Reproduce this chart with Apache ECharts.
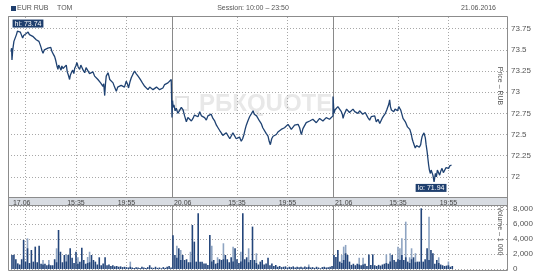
<!DOCTYPE html>
<html><head><meta charset="utf-8">
<script src="https://cdn.jsdelivr.net/npm/echarts@6/dist/echarts.min.js"></script>
<style>html,body{margin:0;padding:0;background:#fff}#c{width:548px;height:275px}</style>
</head><body><div id="c"></div>
<script>
// ---------- data ----------
const instrument = ['EUR RUB', 'TOM'];
const sessionText = 'Session: 10:00 – 23:50';
const dateText = '21.06.2016';
const days = ['17.06', '20.06', '21.06'];
const timeTicks = ['15:35', '19:55'];
const extraGridTimes = [[0, '11:12']];
const priceAxisName = 'Price – RUB';
const volumeAxisName = 'Volume – 1 000';
const watermark = 'РБКQUOTE';

const price1706 = [["10:00",73.48],["10:03",73.52],["10:05",73.38],["10:09",73.50],["10:15",73.60],["10:22",73.58],["10:28",73.68],["10:33",73.72],["10:36",73.74],["10:42",73.70],["10:48",73.71],["10:53",73.68],["11:00",73.64],["11:05",73.67],["11:10",73.66],["11:17",73.69],["11:22",73.67],["11:28",73.71],["11:35",73.68],["11:40",73.70],["11:45",73.69],["11:52",73.66],["12:02",73.67],["12:10",73.62],["12:19",73.64],["12:24",73.60],["12:28",73.58],["12:32",73.55],["12:36",73.52],["12:40",73.49],["12:45",73.46],["12:52",73.50],["13:02",73.48],["13:10",73.52],["13:19",73.50],["13:25",73.53],["13:31",73.48],["13:38",73.45],["13:45",73.42],["13:50",73.38],["13:54",73.34],["13:58",73.30],["14:02",73.27],["14:06",73.32],["14:11",73.30],["14:18",73.26],["14:22",73.31],["14:28",73.28],["14:36",73.30],["14:45",73.32],["14:50",73.24],["14:56",73.20],["15:02",73.15],["15:06",73.20],["15:11",73.23],["15:18",73.26],["15:24",73.22],["15:28",73.28],["15:34",73.31],["15:40",73.35],["15:46",73.30],["15:54",73.27],["16:00",73.32],["16:06",73.30],["16:12",73.26],["16:20",73.23],["16:27",73.29],["16:37",73.27],["16:45",73.22],["16:54",73.21],["17:02",73.24],["17:11",73.19],["17:18",73.21],["17:28",73.15],["17:35",73.17],["17:42",73.11],["17:48",73.13],["17:54",73.07],["17:58",73.10],["18:03",72.96],["18:07",73.10],["18:11",73.19],["18:16",73.17],["18:20",73.23],["18:25",73.19],["18:29",73.15],["18:36",73.16],["18:46",73.11],["18:54",73.06],["19:03",73.01],["19:10",73.06],["19:20",73.05],["19:28",73.08],["19:37",73.09],["19:45",73.06],["19:54",73.13],["20:00",73.10],["20:06",73.05],["20:13",73.12],["20:20",73.17],["20:28",73.21],["20:37",73.25],["20:45",73.22],["20:55",73.19],["21:04",73.16],["21:12",73.13],["21:20",73.10],["21:29",73.07],["21:37",73.05],["21:46",73.03],["21:55",73.06],["22:03",73.05],["22:12",73.03],["22:21",73.02],["22:30",73.06],["22:38",73.05],["22:46",73.03],["22:55",73.02],["23:03",73.05],["23:12",73.09],["23:20",73.08],["23:29",73.11],["23:38",73.12],["23:46",73.15],["23:50",73.13]];

const price2006 = [["10:00",72.70],["10:03",72.90],["10:06",72.82],["10:10",72.85],["10:16",72.78],["10:22",72.81],["10:30",72.75],["10:39",72.77],["10:48",72.82],["10:57",72.79],["11:05",72.72],["11:14",72.65],["11:22",72.70],["11:31",72.71],["11:40",72.66],["11:48",72.69],["11:56",72.73],["12:05",72.75],["12:14",72.71],["12:23",72.77],["12:32",72.72],["12:40",72.73],["12:48",72.70],["12:57",72.67],["13:05",72.72],["13:14",72.71],["13:22",72.74],["13:31",72.69],["13:40",72.66],["13:49",72.61],["13:57",72.58],["14:05",72.55],["14:14",72.52],["14:22",72.49],["14:31",72.48],["14:40",72.52],["14:49",72.50],["14:58",72.45],["15:06",72.46],["15:14",72.52],["15:23",72.50],["15:31",72.45],["15:40",72.44],["15:48",72.47],["15:57",72.42],["16:04",72.45],["16:11",72.50],["16:17",72.56],["16:23",72.61],["16:31",72.66],["16:40",72.71],["16:48",72.74],["16:58",72.78],["17:04",72.74],["17:10",72.75],["17:16",72.72],["17:23",72.71],["17:31",72.66],["17:40",72.63],["17:48",72.58],["17:58",72.56],["18:06",72.51],["18:15",72.48],["18:21",72.42],["18:27",72.38],["18:34",72.45],["18:41",72.48],["18:49",72.46],["18:58",72.50],["19:06",72.53],["19:15",72.52],["19:23",72.56],["19:32",72.54],["19:40",72.58],["19:49",72.58],["19:58",72.62],["20:07",72.59],["20:15",72.56],["20:24",72.58],["20:32",72.61],["20:41",72.59],["20:50",72.62],["20:58",72.58],["21:03",72.53],["21:07",72.50],["21:15",72.57],["21:24",72.59],["21:32",72.64],["21:41",72.63],["21:50",72.66],["21:58",72.65],["22:06",72.68],["22:15",72.67],["22:24",72.64],["22:33",72.66],["22:41",72.69],["22:50",72.69],["22:58",72.66],["23:07",72.67],["23:15",72.70],["23:24",72.69],["23:32",72.68],["23:41",72.69],["23:50",72.72]];

const price2106 = [["10:00",72.95],["10:03",72.84],["10:05",72.75],["10:10",72.79],["10:17",72.81],["10:25",72.83],["10:35",72.85],["10:43",72.77],["10:48",72.74],["10:52",72.69],["10:58",72.74],["11:04",72.77],["11:10",72.80],["11:17",72.79],["11:25",72.76],["11:34",72.78],["11:43",72.80],["11:52",72.77],["12:00",72.79],["12:09",72.75],["12:17",72.78],["12:26",72.77],["12:33",72.74],["12:40",72.73],["12:46",72.76],["12:52",72.74],["13:00",72.70],["13:09",72.67],["13:17",72.71],["13:26",72.69],["13:35",72.72],["13:43",72.65],["13:52",72.68],["14:01",72.63],["14:07",72.66],["14:13",72.69],["14:21",72.72],["14:30",72.75],["14:37",72.79],["14:44",72.81],["14:48",72.86],["14:52",72.91],["14:56",72.83],["15:01",72.79],["15:07",72.81],["15:13",72.77],["15:20",72.80],["15:27",72.81],["15:33",72.78],["15:39",72.83],["15:45",72.81],["15:49",72.79],["15:55",72.74],["16:01",72.69],["16:07",72.70],["16:13",72.65],["16:18",72.63],["16:24",72.59],["16:30",72.60],["16:36",72.56],["16:40",72.54],["16:44",72.50],["16:48",72.45],["16:52",72.42],["16:58",72.38],["17:04",72.34],["17:11",72.37],["17:18",72.36],["17:25",72.35],["17:32",72.38],["17:36",72.44],["17:40",72.48],["17:45",72.50],["17:49",72.52],["17:53",72.50],["17:56",72.46],["18:00",72.38],["18:05",72.30],["18:09",72.22],["18:13",72.14],["18:17",72.08],["18:22",72.04],["18:26",72.08],["18:30",72.10],["18:35",72.02],["18:41",71.94],["18:45",72.00],["18:48",72.04],["18:53",72.00],["18:58",72.08],["19:04",72.05],["19:10",72.02],["19:16",72.07],["19:22",72.10],["19:29",72.05],["19:36",72.06],["19:43",72.11],["19:50",72.12],["19:56",72.10],["20:02",72.13],["20:07",72.12],["20:11",72.14]];

// volume, one value per 10 minutes from 10:00 (dark bars)
const vol1706 = [1870,1900,1300,750,600,1300,3870,1000,2760,800,2530,980,2980,900,3100,700,600,700,500,600,500,500,1300,900,5200,2300,900,1870,1000,1870,2760,1500,800,2300,700,980,2850,1200,700,800,900,1870,1200,980,600,1560,500,750,1560,500,600,400,500,350,400,300,350,250,300,250,200,300,200,150,250,200,150,300,200,150,250,500,200,150,300,150,200,100,250,150,300,400,200];
const vol2006 = [4500,1870,1500,2760,1200,1870,1200,1300,900,900,5870,3650,980,7420,980,980,750,750,530,4540,1000,1200,700,800,1300,1200,1300,1870,1300,900,1560,1000,2760,1300,800,1000,7420,1300,1560,900,1200,5650,1200,800,600,980,1200,600,750,1500,500,750,400,530,300,400,250,300,350,200,300,250,350,200,300,250,300,200,350,250,300,200,250,150,300,200,100,250,300,200,250,300,400];
const vol2106 = [1870,1600,2530,980,800,1200,2100,1870,980,550,700,500,700,600,500,600,700,400,1950,550,1950,500,400,550,450,600,700,800,700,1000,1870,1200,980,1300,1200,1870,1200,1560,980,800,1300,1560,900,980,980,8090,980,1300,2760,1200,2530,2100,700,1200,800,600,500,400,450,500,300,400];
// lighter volume bars
const volLight1706 = [["11:00",1500],["11:20",4090],["12:40",1200],["13:10",1200],["13:50",2760],["14:40",2000],["15:40",1560],["16:30",1600],["16:40",2300],["20:10",980]];
const volLight2006 = [["10:20",3100],["10:40",2530],["11:30",2300],["13:20",3100],["13:50",1560],["14:20",3430],["15:10",2980],["15:50",2300],["16:30",2760],["17:10",2100],["21:40",600]];
const volLight2106 = [["10:40",1870],["10:50",2980],["11:00",3210],["12:10",1500],["12:30",1500],["14:30",1950],["14:50",2100],["15:30",2980],["15:40",2760],["15:50",4090],["16:10",6310],["16:30",1560],["16:40",2760],["17:00",2100],["18:10",6980],["19:00",1560],["19:50",1000]];

// ---------- helpers ----------
const SESSION = 830; // minutes 10:00 - 23:50
function mins(t) { const p = t.split(':').map(Number); return p[0] * 60 + p[1] - 600; }
function xv(d, t) { return d * SESSION + mins(t); }

const priceData = [].concat(
  price1706.map(p => [xv(0, p[0]), p[1]]),
  price2006.map(p => [xv(1, p[0]), p[1]]),
  price2106.map(p => [xv(2, p[0]), p[1]])
);
const darkData = [];
[vol1706, vol2006, vol2106].forEach((arr, d) => arr.forEach((v, i) => darkData.push([d * SESSION + i * 10 + 5, v])));
const lightData = [];
[volLight1706, volLight2006, volLight2106].forEach((arr, d) => arr.forEach(p => lightData.push([xv(d, p[0]) + 5, p[1]])));

const labelMap = {};
const labelVals = [];
days.forEach((dl, d) => {
  const v0 = d * SESSION + 55; labelVals.push(v0); labelMap[v0] = dl;
  timeTicks.forEach(t => { const v = xv(d, t); labelVals.push(v); labelMap[v] = t; });
});

const gridLineStyle = { color: '#a8a8a8', type: [1, 2], width: 1 };
const sepStyle = { color: '#8a8a8a', type: 'solid', width: 1 };
const vLines = [];
extraGridTimes.forEach(e => vLines.push({ xAxis: xv(e[0], e[1]), lineStyle: gridLineStyle }));
days.forEach((dl, d) => {
  if (d > 0) vLines.push({ xAxis: d * SESSION, lineStyle: sepStyle });
  timeTicks.forEach(t => vLines.push({ xAxis: xv(d, t), lineStyle: gridLineStyle }));
});
const markLineCfg = { silent: true, symbol: ['none', 'none'], label: { show: false }, z: 1, animation: false, data: vLines };

const FONT = 'Liberation Sans';
const XMIN = -15.5, XMAX = 2557;

const chart = echarts.init(document.getElementById('c'), null, { renderer: 'canvas' });
chart.setOption({
  animation: false,
  backgroundColor: '#fff',
  textStyle: { fontFamily: FONT },
  grid: [
    { left: 8, top: 16, width: 499, height: 182 },
    { left: 8, top: 206, width: 499, height: 63 }
  ],
  xAxis: [
    { type: 'value', gridIndex: 0, min: XMIN, max: XMAX, z: 30,
      axisLine: { show: false }, axisTick: { show: false }, splitLine: { show: false },
      axisLabel: { customValues: labelVals, formatter: v => labelMap[v] || '', fontSize: 7, color: '#444', margin: 2, fontFamily: FONT } },
    { type: 'value', gridIndex: 1, min: XMIN, max: XMAX,
      axisLine: { show: false }, axisTick: { show: false }, splitLine: { show: false }, axisLabel: { show: false } }
  ],
  yAxis: [
    { type: 'value', gridIndex: 0, position: 'right', min: 71.75, max: 73.9, interval: 0.25,
      axisLine: { show: false }, axisTick: { show: false },
      axisLabel: { fontSize: 8, color: '#555', margin: 4, showMinLabel: false, showMaxLabel: false, fontFamily: FONT },
      splitLine: { lineStyle: gridLineStyle } },
    { type: 'value', gridIndex: 1, position: 'right', min: 0, max: 8400, interval: 2000,
      axisLine: { show: false }, axisTick: { show: false },
      axisLabel: { fontSize: 8, color: '#555', margin: 6, showMaxLabel: false, fontFamily: FONT },
      splitLine: { lineStyle: gridLineStyle } }
  ],
  graphic: [
    { type: 'rect', z: 0, shape: { x: 176, y: 97, width: 12, height: 13 }, style: { fill: 'none', stroke: '#e4e4e4', lineWidth: 2 } },
    { type: 'text', z: 0, x: 199, y: 104, style: { text: watermark, font: 'bold 24px "Liberation Sans"', fill: '#e8e8e8', verticalAlign: 'middle' } },
    { type: 'rect', z: 5, shape: { x: 8.5, y: 197.5, width: 499, height: 8 }, style: { fill: '#d8dce2', stroke: '#8c8c8c', lineWidth: 1 } },
    { type: 'rect', z: 20, shape: { x: 8.5, y: 16.5, width: 499, height: 254 }, style: { fill: 'none', stroke: '#8c8c8c', lineWidth: 1 } },
    { type: 'rect', z: 20, shape: { x: 11, y: 6, width: 5, height: 5 }, style: { fill: '#1f3f6e' } },
    { type: 'text', z: 20, x: 17, y: 8.5, style: { text: instrument[0], font: '7px "Liberation Sans"', fill: '#555', verticalAlign: 'middle' } },
    { type: 'text', z: 20, x: 57, y: 8.5, style: { text: instrument[1], font: '7px "Liberation Sans"', fill: '#555', verticalAlign: 'middle' } },
    { type: 'text', z: 20, x: 253, y: 8.5, style: { text: sessionText, font: '7px "Liberation Sans"', fill: '#555', align: 'center', verticalAlign: 'middle' } },
    { type: 'text', z: 20, x: 496, y: 8.5, style: { text: dateText, font: '7px "Liberation Sans"', fill: '#555', align: 'right', verticalAlign: 'middle' } },
    { type: 'text', z: 20, x: 500, y: 86, rotation: -Math.PI / 2, style: { text: priceAxisName, font: '7px "Liberation Sans"', fill: '#555', align: 'center', verticalAlign: 'middle' } },
    { type: 'text', z: 20, x: 500, y: 231, rotation: -Math.PI / 2, style: { text: volumeAxisName, font: '7px "Liberation Sans"', fill: '#555', align: 'center', verticalAlign: 'middle' } }
  ],
  series: [
    { type: 'line', xAxisIndex: 0, yAxisIndex: 0, data: priceData, showSymbol: false, symbol: 'none',
      lineStyle: { color: '#1f4272', width: 1.3 }, z: 3,
      markLine: markLineCfg,
      markPoint: { symbol: 'circle', symbolSize: 0, animation: false,
        data: [
          { type: 'max', valueDim: 'y', label: { show: true, position: 'top', distance: 2, offset: [10, 0], formatter: p => 'hi: ' + Number(p.value).toFixed(2), backgroundColor: '#1f3f6e', color: '#fff', fontSize: 7, padding: [1, 2, 0, 2], fontFamily: FONT } },
          { type: 'min', valueDim: 'y', label: { show: true, position: 'bottom', distance: 2, offset: [-3, 0], formatter: p => 'lo: ' + Number(p.value).toFixed(2), backgroundColor: '#1f3f6e', color: '#fff', fontSize: 7, padding: [1, 2, 0, 2], fontFamily: FONT } }
        ] } },
    { type: 'bar', xAxisIndex: 1, yAxisIndex: 1, data: lightData, barWidth: 1.6, barGap: '-100%', itemStyle: { color: '#8ea4c2' }, z: 2 },
    { type: 'bar', xAxisIndex: 1, yAxisIndex: 1, data: darkData, barWidth: 1.6, barGap: '-100%', itemStyle: { color: '#23457a' }, z: 3,
      markLine: markLineCfg }
  ]
});
</script></body></html>
